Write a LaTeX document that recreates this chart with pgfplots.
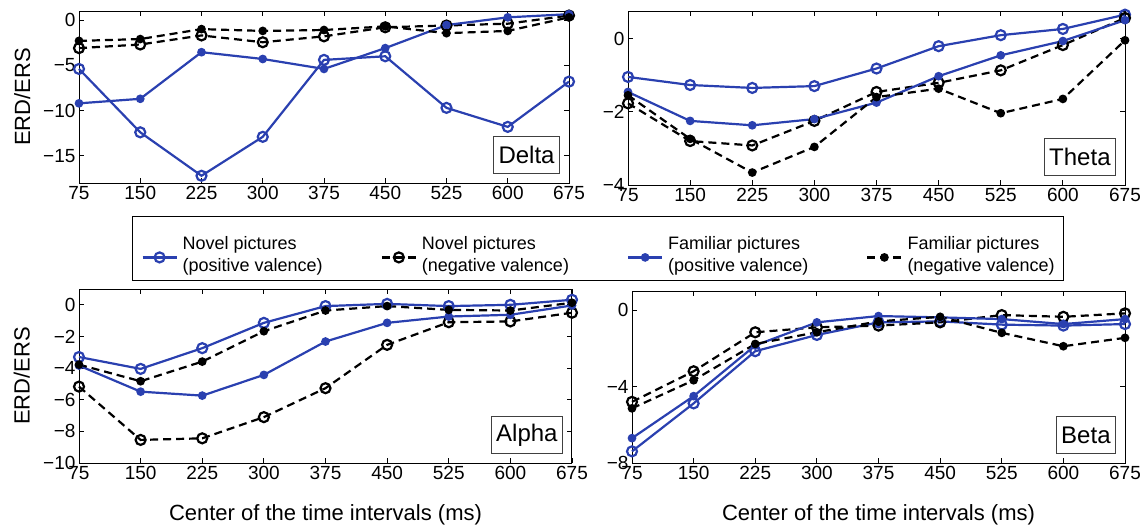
\documentclass[border=0pt]{standalone}
\usepackage{fontspec}
\setmainfont{Liberation Sans}
\usepackage{pgfplots}
\usepackage{pgfplotstable}
\pgfplotsset{compat=1.18}
\definecolor{mblue}{RGB}{42,64,176}

% columns: t, novel positive, novel negative, familiar positive, familiar negative
\pgfplotstableread{
t   np     nn     fp     fn
75  -5.4   -3.1   -9.2   -2.3
150 -12.4  -2.7   -8.7   -2.1
225 -17.2  -1.7   -3.55  -1.0
300 -12.9  -2.45  -4.3   -1.2
375 -4.4   -1.8   -5.4   -1.1
450 -4.0   -0.8   -3.1   -0.7
525 -9.7   -0.6   -0.55  -1.45
600 -11.8  -0.4   0.3    -1.2
675 -6.8   0.5    0.65   0.3
}\tdelta
\pgfplotstableread{
t   np     nn     fp     fn
75  -1.05  -1.77  -1.46  -1.55
150 -1.27  -2.8   -2.25  -2.74
225 -1.35  -2.92  -2.37  -3.66
300 -1.3   -2.25  -2.2   -2.96
375 -0.82  -1.46  -1.75  -1.6
450 -0.21  -1.21  -1.03  -1.37
525 0.09   -0.87  -0.46  -2.04
600 0.26   -0.18  -0.07  -1.65
675 0.65   0.56   0.5    -0.05
}\ttheta
\pgfplotstableread{
t   np     nn     fp     fn
75  -3.3   -5.17  -3.84  -3.78
150 -4.05  -8.54  -5.49  -4.83
225 -2.74  -8.44  -5.74  -3.59
300 -1.14  -7.1   -4.43  -1.67
375 -0.08  -5.27  -2.32  -0.36
450 0.06   -2.53  -1.14  -0.08
525 -0.08  -1.1   -0.74  -0.32
600 0.0    -1.05  -0.63  -0.36
675 0.32   -0.5   -0.04  0.13
}\talpha
\pgfplotstableread{
t   np     nn     fp     fn
75  -7.39  -4.8   -6.7   -5.14
150 -4.88  -3.2   -4.5   -3.67
225 -2.15  -1.16  -1.85  -1.77
300 -1.3   -0.9   -0.64  -1.16
375 -0.64  -0.81  -0.31  -0.59
450 -0.59  -0.64  -0.38  -0.35
525 -0.76  -0.26  -0.47  -1.19
600 -0.81  -0.35  -0.73  -1.89
675 -0.73  -0.17  -0.47  -1.45
}\tbeta

\pgfplotsset{
  erd/.style={
    scale only axis, clip=false,
    xmin=75, xmax=675,
    xtick={75,150,225,300,375,450,525,600,675},
    xticklabels={75,150,225,300,375,450,525,600,675},
    tick align=inside, major tick length=5pt,
    axis line style={line width=1pt},
    every tick/.style={black, line width=0.8pt},
    tick label style={font=\fontsize{19}{21}\selectfont},
    label style={font=\fontsize{22}{25}\selectfont},
  },
}
\tikzset{
  novpos/.style={mblue, line width=2.2pt, mark=o, mark size=5pt},
  novneg/.style={black, line width=2.2pt, dash pattern=on 8pt off 5pt, mark=o, mark size=5pt, mark options={solid}},
  fampos/.style={mblue, line width=2.2pt, mark=*, mark size=3.2pt},
  famneg/.style={black, line width=2.2pt, dash pattern=on 8pt off 5pt, mark=*, mark size=3.2pt, mark options={solid}},
  band/.style={draw=black!75, fill=white, line width=0.8pt, anchor=south east,
    font=\fontsize{24}{26}\selectfont, inner xsep=5pt, minimum height=37pt},
}

\begin{document}
\begin{tikzpicture}
% Delta
\begin{axis}[erd, at={(79pt,-11pt)}, anchor=north west, width=490pt, height=172pt,
  ymin=-18, ymax=1, ytick={-15,-10,-5,0}, yticklabels={−15,−10,−5,0},
  ylabel={ERD/ERS}, ylabel style={at={(axis description cs:-0.116,0.5)}, anchor=center},
  legend columns=4, legend cell align=left,
  legend image code/.code={\draw[yshift=-9pt,mark repeat=2,mark phase=2,#1] plot coordinates {(0pt,0pt)(17pt,0pt)(34pt,0pt)};},
  legend style={at={(0.10816,-0.19186)}, anchor=north west, draw=black, line width=1pt,
    inner xsep=9pt, inner ysep=18pt, font=\fontsize{18}{22}\selectfont,
    nodes={inner sep=0pt},
    /tikz/every odd column/.append style={column sep=5pt},
    /tikz/every even column/.append style={column sep=58pt}},
]
\addplot[novpos] table[x=t,y=np] {\tdelta};
\addlegendentry{\begin{tabular}{@{}l@{}}Novel pictures\\(positive valence)\end{tabular}}
\addplot[novneg] table[x=t,y=nn] {\tdelta};
\addlegendentry{\begin{tabular}{@{}l@{}}Novel pictures\\(negative valence)\end{tabular}}
\addplot[fampos] table[x=t,y=fp] {\tdelta};
\addlegendentry{\begin{tabular}{@{}l@{}}Familiar pictures\\(positive valence)\end{tabular}}
\addplot[famneg] table[x=t,y=fn] {\tdelta};
\addlegendentry{\begin{tabular}{@{}l@{}}Familiar pictures\\(negative valence)\end{tabular}}
\node[band] at ([xshift=-9pt,yshift=9pt]rel axis cs:1,0) {Delta};
\end{axis}

% Theta
\begin{axis}[erd, at={(628pt,-11pt)}, anchor=north west, width=497pt, height=174pt,
  ymin=-4, ymax=0.75, ytick={-4,-2,0}, yticklabels={−4,−2,0}]
\addplot[novpos] table[x=t,y=np] {\ttheta};
\addplot[novneg] table[x=t,y=nn] {\ttheta};
\addplot[fampos] table[x=t,y=fp] {\ttheta};
\addplot[famneg] table[x=t,y=fn] {\ttheta};
\node[band] at ([xshift=-9pt,yshift=9pt]rel axis cs:1,0) {Theta};
\end{axis}

% Alpha
\begin{axis}[erd, at={(79pt,-289pt)}, anchor=north west, width=493pt, height=174pt,
  ymin=-10, ymax=1, ytick={-10,-8,-6,-4,-2,0}, yticklabels={−10,−8,−6,−4,−2,0},
  ylabel={ERD/ERS}, ylabel style={at={(axis description cs:-0.116,0.5)}, anchor=center},
  xlabel={Center of the time intervals (ms)},
  xlabel style={at={(axis description cs:0.5,-0.3)}, anchor=center}]
\addplot[novpos] table[x=t,y=np] {\talpha};
\addplot[novneg] table[x=t,y=nn] {\talpha};
\addplot[fampos] table[x=t,y=fp] {\talpha};
\addplot[famneg] table[x=t,y=fn] {\talpha};
\node[band] at ([xshift=-9pt,yshift=9pt]rel axis cs:1,0) {Alpha};
\end{axis}

% Beta
\begin{axis}[erd, at={(632pt,-291pt)}, anchor=north west, width=493pt, height=172pt,
  ymin=-8, ymax=1, ytick={-8,-4,0}, yticklabels={−8,−4,0},
  xlabel={Center of the time intervals (ms)},
  xlabel style={at={(axis description cs:0.5,-0.303)}, anchor=center}]
\addplot[novpos] table[x=t,y=np] {\tbeta};
\addplot[novneg] table[x=t,y=nn] {\tbeta};
\addplot[fampos] table[x=t,y=fp] {\tbeta};
\addplot[famneg] table[x=t,y=fn] {\tbeta};
\node[band] at ([xshift=-9pt,yshift=9pt]rel axis cs:1,0) {Beta};
\end{axis}

\pgfresetboundingbox
\useasboundingbox (0,0) rectangle (1146pt,-528pt);
\end{tikzpicture}
\end{document}
